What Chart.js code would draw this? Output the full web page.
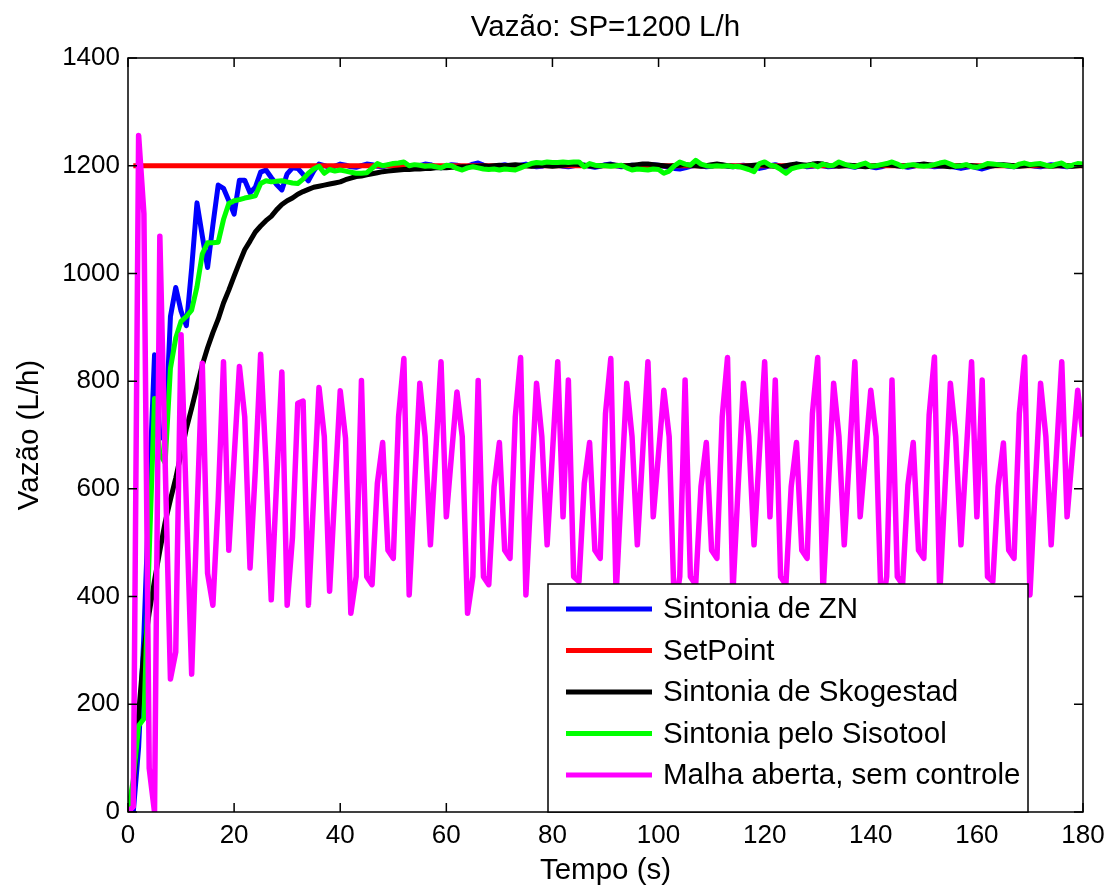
<!DOCTYPE html>
<html>
<head>
<meta charset="utf-8">
<script src="https://cdn.jsdelivr.net/npm/chart.js@4.4.1/dist/chart.umd.min.js"></script>
<style>
  html, body { margin: 0; padding: 0; background: #fff; }
</style>
</head>
<body>
<canvas id="grafico" width="1113" height="891"></canvas>
<script>
// tempo de amostragem: 1 s, de 0 a 180 s
const tempo = Array.from({ length: 181 }, (_, i) => i);

const sintoniaZN = [
  0, 0, 120, 330, 600, 849, 700, 690, 920, 974,
  930, 903, 1010, 1131, 1070, 1011, 1090, 1164, 1158, 1135,
  1110, 1173, 1173, 1150, 1160, 1188, 1192, 1178, 1165, 1155,
  1185, 1196, 1195, 1184, 1172, 1190, 1203,
  1200, 1197, 1199, 1203,
  1201, 1198, 1197, 1200, 1203, 1202, 1199, 1198, 1201, 1203,
  1204, 1201, 1199, 1197, 1200, 1203, 1202, 1198, 1196, 1199,
  1202, 1201, 1198, 1199, 1203, 1205, 1201, 1198, 1197, 1200,
  1202, 1199, 1198, 1201, 1203, 1200, 1198, 1199, 1202, 1204,
  1201, 1199, 1198, 1200, 1202, 1201, 1199, 1197, 1199, 1202,
  1203, 1200, 1198, 1199, 1201, 1200, 1197, 1199, 1202, 1201,
  1199, 1197, 1195, 1194, 1196, 1199, 1201, 1200, 1198, 1199,
  1202, 1201, 1199, 1198, 1200, 1201, 1199, 1198, 1195, 1197,
  1200, 1202, 1199, 1197, 1200, 1203, 1201, 1198, 1199, 1201,
  1200, 1198, 1199, 1202, 1201, 1199, 1197, 1200, 1202, 1198,
  1196, 1198, 1201, 1202, 1200, 1199, 1197, 1199, 1202, 1201,
  1200, 1198, 1199, 1201, 1199, 1197, 1195, 1197, 1199, 1196,
  1194, 1197, 1200, 1202, 1201, 1199, 1198, 1200, 1202, 1201,
  1199, 1198, 1200, 1202, 1201, 1199, 1198, 1200, 1201, 1200
];

const spTempo = [1, 180];
const spValor = [1200, 1200];

const sintoniaSkogestad = [
  0, 40, 181, 300, 370, 430, 485, 538, 580, 620,
  665, 712, 750, 790, 830, 862, 890, 915, 945, 969,
  995, 1020, 1044, 1060, 1077, 1088, 1098, 1106, 1118, 1128,
  1135, 1140, 1147, 1152, 1156, 1160, 1162, 1164, 1166, 1168,
  1170, 1174, 1177, 1180, 1181, 1183, 1185, 1187, 1189, 1190,
  1191, 1192, 1193, 1193, 1194, 1194, 1195, 1195, 1196, 1196,
  1196, 1197,
  1197, 1198, 1198, 1199, 1199, 1200, 1199, 1200, 1201,
  1200, 1201, 1202, 1201, 1200, 1199, 1200, 1201, 1200, 1199,
  1200, 1201, 1202, 1203, 1202, 1201, 1200, 1199, 1200, 1201,
  1202, 1201, 1200, 1200, 1201, 1202, 1203, 1203, 1202, 1201,
  1200, 1199, 1200, 1201, 1202, 1201, 1200, 1199, 1200, 1202,
  1203, 1202, 1200, 1199, 1198, 1199, 1200, 1201, 1202, 1201,
  1200, 1199, 1198, 1200, 1202, 1203, 1202, 1201, 1203, 1204,
  1203, 1201, 1200, 1199, 1200, 1201, 1200, 1199, 1198, 1199,
  1200, 1201, 1202, 1201, 1200, 1199, 1200, 1201, 1202, 1203,
  1202, 1201, 1200, 1199, 1198, 1199, 1200, 1201, 1200, 1199,
  1198, 1199, 1200, 1201, 1202, 1201, 1200, 1199, 1200, 1201,
  1202, 1201, 1200, 1199, 1200, 1201, 1200, 1199, 1200, 1201
];

const sintoniaSisotool = [
  0, 60, 160, 173, 480, 768, 665, 648, 824, 880,
  911, 920, 932, 975, 1036, 1057, 1057, 1058, 1100, 1130,
  1135, 1137, 1140, 1142, 1144, 1167, 1172, 1170, 1171, 1172,
  1170, 1168, 1167, 1175, 1186, 1194, 1199, 1186, 1193, 1190,
  1192, 1190, 1188, 1186, 1186, 1187, 1195, 1204, 1200, 1202,
  1204, 1205, 1207, 1200, 1202, 1201, 1199, 1200, 1198, 1196,
  1201, 1200, 1195, 1192, 1196, 1198, 1196, 1194, 1193, 1194,
  1192, 1194, 1193, 1192, 1196, 1200, 1204, 1206, 1205, 1207,
  1206, 1206, 1207, 1206, 1207, 1207, 1198, 1204, 1201, 1200,
  1200, 1199, 1200, 1201, 1196, 1192, 1194, 1193, 1192, 1194,
  1193, 1186, 1190, 1200, 1207, 1203, 1201, 1210, 1203, 1200,
  1199, 1200, 1199, 1200, 1198, 1199, 1196, 1193, 1189, 1204,
  1207, 1201, 1199, 1193, 1186, 1194, 1197, 1199, 1200, 1202,
  1198, 1203, 1200, 1201, 1207, 1203, 1200, 1198, 1202, 1205,
  1199, 1200, 1202, 1204, 1207, 1203, 1198, 1201, 1202, 1200,
  1199, 1200, 1202, 1205, 1207, 1203, 1199, 1200, 1202, 1198,
  1197, 1200, 1204, 1203, 1202, 1201, 1200, 1198, 1203, 1205,
  1202, 1203, 1204, 1201, 1199, 1203, 1205, 1199, 1201, 1204,
  1203
];

const malhaAberta = [
  0, 10, 1256, 1111, 81, 0, 1069, 650, 247, 297,
  886, 571, 256, 552, 833, 443, 384, 579, 836, 486,
  657, 827, 734, 453, 635, 850, 650, 394, 610, 817,
  384, 510, 759, 763, 384, 586, 788, 697, 410, 598,
  782, 694, 369, 437,
  801, 437, 422, 610, 686, 486, 471, 734, 842,
  403, 604, 796, 697, 496, 666, 836, 548,
  666, 780, 697, 369, 437,
  801, 437, 422, 604, 686, 486, 471, 734, 844,
  403, 604, 796, 697, 496, 666, 836, 548,
  802, 437, 428, 610, 686, 486, 471, 740, 842,
  403, 604, 796, 697, 496, 666, 836, 548,
  666, 783, 697, 369, 437,
  802, 437, 422, 604, 686, 486, 471, 734, 844,
  403, 604, 796, 697, 496, 666, 836, 548,
  802, 437, 422, 604, 686, 486, 471, 740, 844,
  403, 604, 796, 697, 496, 666, 836, 548,
  666, 783, 697, 369, 437,
  802, 437, 422, 607, 686, 486, 471, 737, 845,
  403, 604, 796, 697, 496, 666, 836, 548,
  802, 437, 428, 604, 685, 486, 471, 740, 845,
  403, 604, 796, 697, 496, 666, 836, 548,
  666, 783, 697
];

const xTicks = [0, 20, 40, 60, 80, 100, 120, 140, 160, 180];
const yTicks = [0, 200, 400, 600, 800, 1000, 1200, 1400];

const FONTE = '"Liberation Sans", Arial, Helvetica, sans-serif';
const TAM_TICK = 26;
const TAM_TEXTO = 29.5;

const pares = (xs, ys) => ys.map((v, i) => ({ x: xs[i], y: v }));

// moldura estilo MATLAB: caixa, ticks para dentro, titulo e legenda
const molduraMatlab = {
  id: 'molduraMatlab',
  afterDraw(chart) {
    const { ctx, chartArea: a, scales } = chart;
    ctx.save();
    ctx.strokeStyle = '#000';
    ctx.lineWidth = 1.5;
    ctx.strokeRect(a.left, a.top, a.right - a.left, a.bottom - a.top);

    const tl = 9;
    ctx.beginPath();
    scales.x.ticks.forEach(t => {
      const px = scales.x.getPixelForValue(t.value);
      ctx.moveTo(px, a.bottom); ctx.lineTo(px, a.bottom - tl);
      ctx.moveTo(px, a.top); ctx.lineTo(px, a.top + tl);
    });
    scales.y.ticks.forEach(t => {
      const py = scales.y.getPixelForValue(t.value);
      ctx.moveTo(a.left, py); ctx.lineTo(a.left + tl, py);
      ctx.moveTo(a.right, py); ctx.lineTo(a.right - tl, py);
    });
    ctx.stroke();

    ctx.fillStyle = '#000';
    ctx.font = TAM_TEXTO + 'px ' + FONTE;
    ctx.textAlign = 'center';
    ctx.textBaseline = 'middle';
    ctx.fillText('Vazão: SP=1200 L/h', (a.left + a.right) / 2, 28);

    // legenda
    const w = 480, h = 228;
    const lx = a.right - 55 - w;
    const ly = a.bottom - h;
    ctx.fillStyle = '#fff';
    ctx.fillRect(lx, ly, w, h);
    ctx.strokeRect(lx, ly, w, h);
    ctx.textAlign = 'left';
    chart.data.datasets.forEach((ds, i) => {
      const yy = ly + 25 + i * 41.5;
      ctx.strokeStyle = ds.borderColor;
      ctx.lineWidth = 5;
      ctx.beginPath();
      ctx.moveTo(lx + 18, yy);
      ctx.lineTo(lx + 104, yy);
      ctx.stroke();
      ctx.fillStyle = '#000';
      ctx.fillText(ds.label, lx + 115, yy + 1);
    });
    ctx.restore();
  }
};

new Chart(document.getElementById('grafico'), {
  type: 'line',
  data: {
    datasets: [
      { label: 'Sintonia de ZN', data: pares(tempo, sintoniaZN), borderColor: '#0000ff', order: 4 },
      { label: 'SetPoint', data: pares(spTempo, spValor), borderColor: '#ff0000', order: 3 },
      { label: 'Sintonia de Skogestad', data: pares(tempo, sintoniaSkogestad), borderColor: '#000000', order: 2 },
      { label: 'Sintonia pelo Sisotool', data: pares(tempo, sintoniaSisotool), borderColor: '#00ff00', order: 1 },
      { label: 'Malha aberta, sem controle', data: pares(tempo, malhaAberta), borderColor: '#ff00ff', order: 0, borderWidth: 5.5 }
    ]
  },
  options: {
    responsive: false,
    animation: false,
    events: [],
    datasets: {
      line: { borderWidth: 5, pointRadius: 0, tension: 0, fill: false, borderJoinStyle: 'round' }
    },
    layout: { padding: { top: 58, right: 30, left: 0, bottom: 0 } },
    plugins: {
      legend: { display: false },
      title: { display: false },
      tooltip: { enabled: false }
    },
    scales: {
      x: {
        type: 'linear',
        min: 0,
        max: 180,
        afterBuildTicks: s => { s.ticks = xTicks.map(v => ({ value: v })); },
        afterFit: s => { s.height = 79; },
        grid: { display: false, drawTicks: false },
        border: { display: false },
        ticks: { color: '#000', font: { family: FONTE, size: TAM_TICK }, padding: 8, maxRotation: 0, callback: v => String(v) },
        title: { display: true, text: 'Tempo (s)', color: '#000', font: { family: FONTE, size: TAM_TEXTO }, padding: { top: 0, bottom: 2 } }
      },
      y: {
        min: 0,
        max: 1400,
        afterBuildTicks: s => { s.ticks = yTicks.map(v => ({ value: v })); },
        afterFit: s => { s.width = 128; },
        grid: { display: false, drawTicks: false },
        border: { display: false },
        ticks: { color: '#000', font: { family: FONTE, size: TAM_TICK }, padding: 8, callback: v => String(v) },
        title: { display: true, text: 'Vazão (L/h)', color: '#000', font: { family: FONTE, size: TAM_TEXTO }, padding: { top: 12, bottom: 0 } }
      }
    }
  },
  plugins: [molduraMatlab]
});
</script>
</body>
</html>
